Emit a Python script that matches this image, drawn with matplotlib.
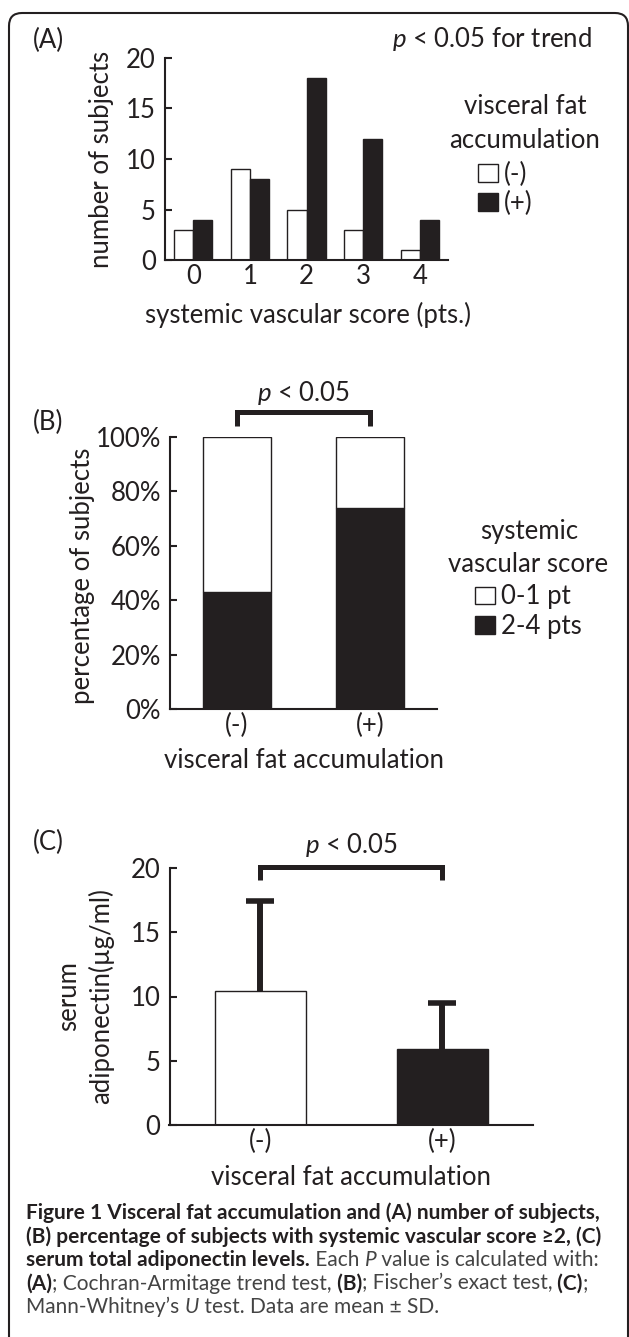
import numpy as np
import matplotlib
matplotlib.use("Agg")
import matplotlib.pyplot as plt
from matplotlib.patches import FancyBboxPatch

# --- data ---
scores = [0, 1, 2, 3, 4]
count_neg = [3, 9, 5, 3, 1]       # visceral fat (-)
count_pos = [4, 8, 18, 12, 4]     # visceral fat (+)

groups = ["(-)", "(+)"]
pct_high = [43, 74]               # 2-4 pts
pct_low = [57, 26]                # 0-1 pt

adipo_mean = [10.4, 5.9]
adipo_sd = [7.0, 3.6]

DARK = "#231f20"
W, H = 629, 1337
plt.rcParams["font.family"] = ["Lato", "DejaVu Sans"]
plt.rcParams["text.color"] = DARK
plt.rcParams["axes.labelcolor"] = DARK
plt.rcParams["xtick.color"] = DARK
plt.rcParams["ytick.color"] = DARK
plt.rcParams["mathtext.fontset"] = "custom"
plt.rcParams["mathtext.rm"] = "Lato"
plt.rcParams["mathtext.it"] = "Lato:italic"

FS = 18.5


def fx(px):
    return px / W


def fy(py):
    return 1 - py / H


def make_axes(left, right, top, bottom):
    ax = fig.add_axes([fx(left), fy(bottom), fx(right - left), (bottom - top) / H])
    for s in ["top", "right"]:
        ax.spines[s].set_visible(False)
    for s in ["left", "bottom"]:
        ax.spines[s].set_linewidth(1.5)
        ax.spines[s].set_color(DARK)
    ax.tick_params(axis="y", direction="in", length=5, width=1.5, labelsize=FS, pad=6.5)
    ax.tick_params(axis="x", length=0, labelsize=FS, pad=3)
    return ax


def bracket(ax, x0, x1, ytop, ybot):
    ax.plot([x0, x0, x1, x1], [ybot, ytop, ytop, ybot], color=DARK, lw=3.6,
            clip_on=False, solid_joinstyle="miter", solid_capstyle="butt")


def add_legend(handles, labels, left, top):
    fig.legend(handles, labels, loc="upper left",
               bbox_to_anchor=(fx(left), fy(top)), frameon=False, fontsize=FS,
               handlelength=0.78, handleheight=0.7, handletextpad=0.23,
               labelspacing=0.16, borderpad=0, borderaxespad=0)


fig = plt.figure(figsize=(W / 100, H / 100), dpi=100)

# outer frame
fig.patches.append(FancyBboxPatch((9, -30), 619, H - 13 + 30,
                                  boxstyle="round,pad=0,rounding_size=13",
                                  transform=None, fill=False, lw=1.5, ec=DARK))

# ---------------- (A) ----------------
ax = make_axes(165, 448, 58, 260)
x = np.array(scores)
w = 0.336
b1 = ax.bar(x - w / 2, count_neg, w, color="white", edgecolor=DARK, lw=1.0)
b2 = ax.bar(x + w / 2, count_pos, w, color=DARK, edgecolor=DARK, lw=1.0)
ax.set_xlim(-0.5, 4.5)
ax.set_ylim(0, 20)
ax.set_yticks([0, 5, 10, 15, 20])
ax.set_xticks(scores)
ax.set_xlabel("systemic vascular score (pts.)", fontsize=FS, va="center")
ax.xaxis.set_label_coords(0.505, -0.27)
ax.set_ylabel("number of subjects", fontsize=FS, va="center")
ax.yaxis.set_label_coords(-0.226, 0.5)
fig.text(fx(33), fy(40), "(A)", fontsize=FS, va="center")
fig.text(fx(592), fy(39), "$p$ < 0.05 for trend", fontsize=FS, va="center", ha="right")
fig.text(fx(525), fy(107), "visceral fat", fontsize=FS, va="center", ha="center")
fig.text(fx(525), fy(140), "accumulation", fontsize=FS, va="center", ha="center")
add_legend([b1, b2], ["(-)", "(+)"], 478, 161.5)

# ---------------- (B) ----------------
ax = make_axes(170, 437, 437, 709)
xb = np.arange(len(groups))
c1 = ax.bar(xb, pct_high, 0.51, color=DARK, edgecolor=DARK, lw=1.0)
c2 = ax.bar(xb, pct_low, 0.51, bottom=pct_high, color="white", edgecolor=DARK, lw=1.0)
ax.set_xlim(-0.5, 1.5)
ax.set_ylim(0, 100)
ax.set_yticks(range(0, 101, 20))
ax.set_yticklabels([f"{v}%" for v in range(0, 101, 20)])
ax.set_xticks(xb)
ax.set_xticklabels(groups)
ax.set_xlabel("visceral fat accumulation", fontsize=FS, va="center")
ax.xaxis.set_label_coords(0.5, -0.19)
ax.set_ylabel("percentage of subjects", fontsize=FS, va="center")
ax.yaxis.set_label_coords(-0.326, 0.49)
bracket(ax, 0, 1, 109.2, 104.0)
ax.text(0.5, 116.2, "$p$ < 0.05", fontsize=FS, ha="center", va="center")
fig.text(fx(33), fy(422), "(B)", fontsize=FS, va="center")
fig.text(fx(529), fy(532), "systemic", fontsize=FS, va="center", ha="center")
fig.text(fx(528), fy(565), "vascular score", fontsize=FS, va="center", ha="center")
add_legend([c2, c1], ["0-1 pt", "2-4 pts"], 475, 584.5)

# ---------------- (C) ----------------
ax = make_axes(169.5, 533, 868, 1125)
xc = np.arange(len(groups))
ax.bar(xc, adipo_mean, 0.5, color=["white", DARK], edgecolor=DARK, lw=1.0)
eb = ax.errorbar(xc, adipo_mean, yerr=[[0, 0], adipo_sd], fmt="none", ecolor=DARK,
                 elinewidth=4.3, capsize=10, capthick=4)
eb[1][0].set_visible(False)   # no cap at the bar top, only the upper SD
ax.set_xlim(-0.5, 1.5)
ax.set_ylim(0, 20)
ax.set_yticks([0, 5, 10, 15, 20])
ax.set_xticks(xc)
ax.set_xticklabels(groups)
ax.set_xlabel("visceral fat accumulation", fontsize=FS, va="center")
ax.xaxis.set_label_coords(0.5, -0.206)
ax.set_ylabel("serum\nadiponectin(\u00b5g/ml)", fontsize=FS, va="center", linespacing=1.3)
ax.yaxis.set_label_coords(-0.232, 0.5)
bracket(ax, 0, 1, 20.1, 19.1)
ax.text(0.5, 21.8, "$p$ < 0.05", fontsize=FS, ha="center", va="center")
fig.text(fx(33), fy(842), "(C)", fontsize=FS, va="center")

# ---------------- caption ----------------
B = {"weight": "bold", "color": DARK}
R = {"color": "#444444"}
I = {"style": "italic", "color": "#444444"}
caption = [
    [("Figure 1 Visceral fat accumulation and (A) number of subjects,", B)],
    [("(B) percentage of subjects with systemic vascular score \u22652, (C)", B)],
    [("serum total adiponectin levels.", B), (" Each ", R), ("P", I),
     (" value is calculated with:", R)],
    [("(A)", B), ("; Cochran-Armitage trend test,", R), (" (B)", B),
     ("; Fischer\u2019s exact test,", R), (" (C)", B), (";", R)],
    [("Mann-Whitney\u2019s ", R), ("U", I), (" test. Data are mean \u00b1 SD.", R)],
]
cap_y = [1213, 1236.5, 1260, 1283.5, 1307]
CFS = 15
renderer = fig.canvas.get_renderer()
for line, yy in zip(caption, cap_y):
    xpos = 26
    for txt, style in line:
        t = fig.text(fx(xpos), fy(yy), txt, fontsize=CFS, va="center", ha="left", **style)
        xpos += t.get_window_extent(renderer).width

fig.savefig("out.png", dpi=100)
